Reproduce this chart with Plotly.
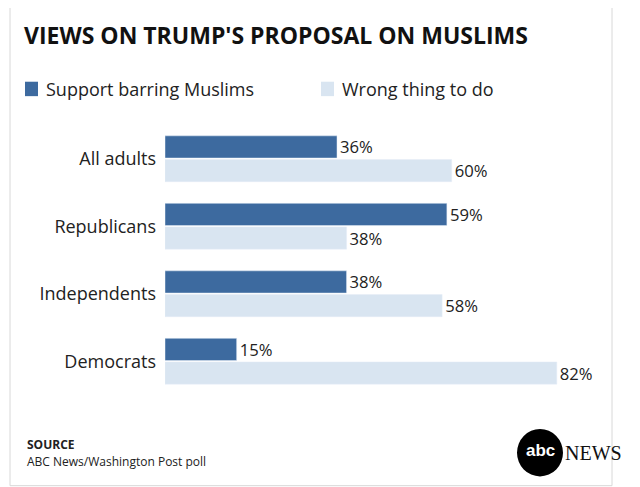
import plotly.graph_objects as go

groups = ["All adults", "Republicans", "Independents", "Democrats"]
support = [36, 59, 38, 15]
wrong = [60, 38, 58, 82]
DARK = "#3d6a9f"
LIGHT = "#d9e5f1"

# the page adds ~8px body margin, so work in reference pixels and shift
OFF = 8
L, R, T, B = 165 - OFF, 45, 125 - OFF, 100 - OFF
W, H = 640 - OFF, 487 - OFF

def px(x):
    return (x - 165) / 430

def py(y):
    return (387 - y) / 262

fig = go.Figure()
fig.add_trace(go.Bar(y=groups, x=support, orientation="h", marker_color=DARK,
                     text=[f"{v}%" for v in support], textposition="outside",
                     name="Support barring Muslims"))
fig.add_trace(go.Bar(y=groups, x=wrong, orientation="h", marker_color=LIGHT,
                     text=[f"{v}%" for v in wrong], textposition="outside",
                     name="Wrong thing to do"))

font = "Open Sans, sans-serif"
fig.update_layout(
    width=W, height=H, barmode="group", bargap=0.3, bargroupgap=0.06,
    margin=dict(l=L, r=R, t=T, b=B),
    plot_bgcolor="white", paper_bgcolor="white", showlegend=False,
    font=dict(family=font, size=17, color="#222"),
    xaxis=dict(range=[0, 90], visible=False),
    yaxis=dict(autorange="reversed", showline=False, ticks="", ticklabelstandoff=8,
               tickfont=dict(size=18, color="#222")),
)
fig.update_traces(textfont=dict(size=18, color="#222"), cliponaxis=False)

shapes = [
    dict(type="rect", xref="paper", yref="paper", x0=px(10), x1=px(612), y0=py(475), y1=py(2),
         line=dict(color="#d8d8d8", width=1)),
    dict(type="rect", xref="paper", yref="paper", x0=px(25), x1=px(38), y0=py(97), y1=py(83),
         fillcolor=DARK, line_width=0),
    dict(type="rect", xref="paper", yref="paper", x0=px(321), x1=px(334), y0=py(97), y1=py(83),
         fillcolor=LIGHT, line_width=0),
    dict(type="circle", xref="paper", yref="paper", x0=px(517), x1=px(563), y0=py(466), y1=py(420),
         fillcolor="black", line_width=0),
]
ann = [
    dict(text="<b>VIEWS ON TRUMP'S PROPOSAL ON MUSLIMS</b>", x=px(22), y=py(38),
         font=dict(size=23, color="#111")),
    dict(text="Support barring Muslims", x=px(44), y=py(90), font=dict(size=18, color="#222")),
    dict(text="Wrong thing to do", x=px(340), y=py(90), font=dict(size=18, color="#222")),
    dict(text="<b>SOURCE</b>", x=px(25), y=py(435), font=dict(size=12, color="#222")),
    dict(text="ABC News/Washington Post poll", x=px(25), y=py(452), font=dict(size=12, color="#222")),
    dict(text="<b>abc</b>", x=px(540), y=py(441), xanchor="center",
         font=dict(size=17, color="white", family="Arial")),
    dict(text="NEWS", x=px(563), y=py(443), font=dict(size=20, color="#111", family="Liberation Serif")),
]
for a in ann:
    a.setdefault("xanchor", "left")
    a.update(xref="paper", yref="paper", yanchor="middle", showarrow=False)
fig.update_layout(shapes=shapes, annotations=ann)
fig.write_html("out.html")
